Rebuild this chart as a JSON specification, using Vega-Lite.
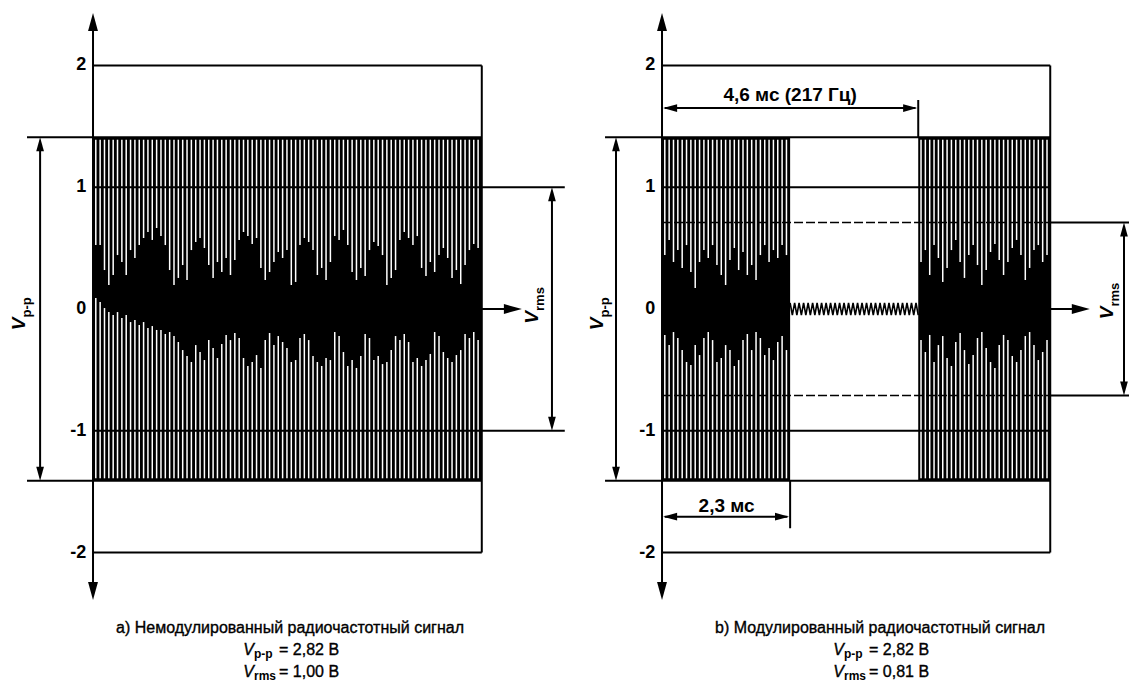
{
"$schema": "https://vega.github.io/schema/vega-lite/v6.json",
"padding": 0,
"spacing": 3,
"bounds": "flush",
"background": "white",
"config": {"view": {"stroke": null}, "font": "Liberation Sans"},
"datasets": {
"blk": [{"p":"a","t0":0,"t1":6.98,"hi":1.41,"lo":-1.41},{"p":"b","t0":0,"t1":2.3,"hi":1.41,"lo":-1.41},{"p":"b","t0":4.6,"t1":6.97,"hi":1.41,"lo":-1.41}],
"sa": [
{"t":0.05,"u":0.525,"l":0.090},{"t":0.128,"u":0.525,"l":0.057},{"t":0.206,"u":0.320,"l":0.008},{"t":0.284,"u":0.197,"l":-0.025},{"t":0.362,"u":0.279,"l":-0.049},
{"t":0.44,"u":0.443,"l":-0.025},{"t":0.518,"u":0.386,"l":-0.074},{"t":0.596,"u":0.279,"l":-0.049},{"t":0.674,"u":0.484,"l":-0.107},{"t":0.752,"u":0.419,"l":-0.090},
{"t":0.83,"u":0.525,"l":-0.131},{"t":0.908,"u":0.583,"l":-0.107},{"t":0.986,"u":0.632,"l":-0.156},{"t":1.064,"u":0.567,"l":-0.140},{"t":1.142,"u":0.665,"l":-0.172},
{"t":1.22,"u":0.599,"l":-0.172},{"t":1.298,"u":0.525,"l":-0.205},{"t":1.376,"u":0.320,"l":-0.189},{"t":1.454,"u":0.197,"l":-0.222},{"t":1.532,"u":0.255,"l":-0.271},
{"t":1.61,"u":0.361,"l":-0.337},{"t":1.688,"u":0.238,"l":-0.386},{"t":1.766,"u":0.484,"l":-0.435},{"t":1.844,"u":0.550,"l":-0.296},{"t":1.922,"u":0.583,"l":-0.353},
{"t":2.0,"u":0.501,"l":-0.419},{"t":2.078,"u":0.361,"l":-0.255},{"t":2.156,"u":0.255,"l":-0.320},{"t":2.234,"u":0.386,"l":-0.402},{"t":2.312,"u":0.304,"l":-0.287},
{"t":2.39,"u":0.419,"l":-0.213},{"t":2.468,"u":0.279,"l":-0.255},{"t":2.546,"u":0.402,"l":-0.197},{"t":2.624,"u":0.567,"l":-0.238},{"t":2.702,"u":0.632,"l":-0.402},
{"t":2.78,"u":0.599,"l":-0.468},{"t":2.858,"u":0.534,"l":-0.435},{"t":2.936,"u":0.583,"l":-0.378},{"t":3.014,"u":0.337,"l":-0.484},{"t":3.092,"u":0.238,"l":-0.255},
{"t":3.17,"u":0.304,"l":-0.197},{"t":3.248,"u":0.386,"l":-0.296},{"t":3.326,"u":0.468,"l":-0.222},{"t":3.404,"u":0.419,"l":-0.271},{"t":3.482,"u":0.484,"l":-0.320},
{"t":3.56,"u":0.197,"l":-0.435},{"t":3.638,"u":0.222,"l":-0.419},{"t":3.716,"u":0.525,"l":-0.238},{"t":3.794,"u":0.583,"l":-0.205},{"t":3.872,"u":0.550,"l":-0.255},
{"t":3.95,"u":0.484,"l":-0.386},{"t":4.028,"u":0.279,"l":-0.435},{"t":4.106,"u":0.337,"l":-0.468},{"t":4.184,"u":0.238,"l":-0.402},{"t":4.262,"u":0.386,"l":-0.419},
{"t":4.34,"u":0.599,"l":-0.189},{"t":4.418,"u":0.567,"l":-0.222},{"t":4.496,"u":0.649,"l":-0.353},{"t":4.574,"u":0.525,"l":-0.468},{"t":4.652,"u":0.304,"l":-0.419},
{"t":4.73,"u":0.238,"l":-0.484},{"t":4.808,"u":0.337,"l":-0.386},{"t":4.886,"u":0.271,"l":-0.205},{"t":4.964,"u":0.484,"l":-0.238},{"t":5.042,"u":0.550,"l":-0.419},
{"t":5.12,"u":0.517,"l":-0.386},{"t":5.198,"u":0.443,"l":-0.452},{"t":5.276,"u":0.197,"l":-0.435},{"t":5.354,"u":0.255,"l":-0.337},{"t":5.432,"u":0.320,"l":-0.222},
{"t":5.51,"u":0.567,"l":-0.255},{"t":5.588,"u":0.632,"l":-0.205},{"t":5.666,"u":0.583,"l":-0.271},{"t":5.744,"u":0.525,"l":-0.435},{"t":5.822,"u":0.599,"l":-0.402},
{"t":5.9,"u":0.337,"l":-0.468},{"t":5.978,"u":0.271,"l":-0.419},{"t":6.056,"u":0.386,"l":-0.369},{"t":6.134,"u":0.304,"l":-0.189},{"t":6.212,"u":0.443,"l":-0.222},
{"t":6.29,"u":0.501,"l":-0.353},{"t":6.368,"u":0.419,"l":-0.402},{"t":6.446,"u":0.255,"l":-0.435},{"t":6.524,"u":0.320,"l":-0.378},{"t":6.602,"u":0.205,"l":-0.337},
{"t":6.68,"u":0.361,"l":-0.205},{"t":6.758,"u":0.484,"l":-0.238},{"t":6.836,"u":0.534,"l":-0.189},{"t":6.914,"u":0.501,"l":-0.255}
],
"sb": [
{"t":0.05,"u":0.443,"l":-0.213},{"t":0.128,"u":0.567,"l":-0.296},{"t":0.206,"u":0.386,"l":-0.189},{"t":0.284,"u":0.484,"l":-0.238},{"t":0.362,"u":0.337,"l":-0.337},
{"t":0.44,"u":0.525,"l":-0.435},{"t":0.518,"u":0.304,"l":-0.460},{"t":0.596,"u":0.172,"l":-0.296},{"t":0.674,"u":0.386,"l":-0.378},{"t":0.752,"u":0.484,"l":-0.238},
{"t":0.83,"u":0.419,"l":-0.189},{"t":0.908,"u":0.525,"l":-0.255},{"t":0.986,"u":0.361,"l":-0.435},{"t":1.064,"u":0.279,"l":-0.402},{"t":1.142,"u":0.197,"l":-0.296},
{"t":1.22,"u":0.402,"l":-0.337},{"t":1.298,"u":0.501,"l":-0.468},{"t":1.376,"u":0.320,"l":-0.419},{"t":1.454,"u":0.468,"l":-0.255},{"t":1.532,"u":0.279,"l":-0.205},
{"t":1.61,"u":0.361,"l":-0.337},{"t":1.688,"u":0.238,"l":-0.189},{"t":1.766,"u":0.443,"l":-0.238},{"t":1.844,"u":0.525,"l":-0.378},{"t":1.922,"u":0.386,"l":-0.320},
{"t":2.0,"u":0.484,"l":-0.419},{"t":2.078,"u":0.419,"l":-0.271},{"t":2.156,"u":0.525,"l":-0.222},{"t":2.234,"u":0.443,"l":-0.337},
{"t":4.65,"u":0.386,"l":-0.255},{"t":4.728,"u":0.484,"l":-0.353},{"t":4.806,"u":0.279,"l":-0.213},{"t":4.884,"u":0.525,"l":-0.435},{"t":4.962,"u":0.419,"l":-0.296},
{"t":5.04,"u":0.222,"l":-0.222},{"t":5.118,"u":0.337,"l":-0.402},{"t":5.196,"u":0.484,"l":-0.468},{"t":5.274,"u":0.567,"l":-0.271},{"t":5.352,"u":0.386,"l":-0.197},
{"t":5.43,"u":0.255,"l":-0.337},{"t":5.508,"u":0.443,"l":-0.452},{"t":5.586,"u":0.525,"l":-0.378},{"t":5.664,"u":0.361,"l":-0.238},{"t":5.742,"u":0.197,"l":-0.189},
{"t":5.82,"u":0.320,"l":-0.320},{"t":5.898,"u":0.468,"l":-0.435},{"t":5.976,"u":0.534,"l":-0.484},{"t":6.054,"u":0.402,"l":-0.296},{"t":6.132,"u":0.279,"l":-0.213},
{"t":6.21,"u":0.386,"l":-0.255},{"t":6.288,"u":0.501,"l":-0.386},{"t":6.366,"u":0.567,"l":-0.435},{"t":6.444,"u":0.443,"l":-0.337},{"t":6.522,"u":0.238,"l":-0.222},
{"t":6.6,"u":0.337,"l":-0.189},{"t":6.678,"u":0.484,"l":-0.296},{"t":6.756,"u":0.525,"l":-0.419},{"t":6.834,"u":0.386,"l":-0.353},{"t":6.912,"u":0.443,"l":-0.255}
],
"zig": [
{"t":2.300,"v":0.05},{"t":2.340,"v":-0.05},{"t":2.381,"v":0.05},{"t":2.421,"v":-0.05},{"t":2.461,"v":0.05},{"t":2.502,"v":-0.05},{"t":2.542,"v":0.05},{"t":2.582,"v":-0.05},
{"t":2.623,"v":0.05},{"t":2.663,"v":-0.05},{"t":2.704,"v":0.05},{"t":2.744,"v":-0.05},{"t":2.784,"v":0.05},{"t":2.825,"v":-0.05},{"t":2.865,"v":0.05},{"t":2.905,"v":-0.05},
{"t":2.946,"v":0.05},{"t":2.986,"v":-0.05},{"t":3.026,"v":0.05},{"t":3.067,"v":-0.05},{"t":3.107,"v":0.05},{"t":3.147,"v":-0.05},{"t":3.188,"v":0.05},{"t":3.228,"v":-0.05},
{"t":3.268,"v":0.05},{"t":3.309,"v":-0.05},{"t":3.349,"v":0.05},{"t":3.389,"v":-0.05},{"t":3.430,"v":0.05},{"t":3.470,"v":-0.05},{"t":3.511,"v":0.05},{"t":3.551,"v":-0.05},
{"t":3.591,"v":0.05},{"t":3.632,"v":-0.05},{"t":3.672,"v":0.05},{"t":3.712,"v":-0.05},{"t":3.753,"v":0.05},{"t":3.793,"v":-0.05},{"t":3.833,"v":0.05},{"t":3.874,"v":-0.05},
{"t":3.914,"v":0.05},{"t":3.954,"v":-0.05},{"t":3.995,"v":0.05},{"t":4.035,"v":-0.05},{"t":4.075,"v":0.05},{"t":4.116,"v":-0.05},{"t":4.156,"v":0.05},{"t":4.196,"v":-0.05},
{"t":4.237,"v":0.05},{"t":4.277,"v":-0.05},{"t":4.318,"v":0.05},{"t":4.358,"v":-0.05},{"t":4.398,"v":0.05},{"t":4.439,"v":-0.05},{"t":4.479,"v":0.05},{"t":4.519,"v":-0.05},
{"t":4.560,"v":0.05},{"t":4.600,"v":-0.05}
],
"la": [
{"x1":0,"x2":6.98,"y1":2,"y2":2},{"x1":-1.185,"x2":6.98,"y1":1.41,"y2":1.41},{"x1":0,"x2":8.47,"y1":1,"y2":1},{"x1":0,"x2":8.47,"y1":-1,"y2":-1},
{"x1":-1.185,"x2":6.98,"y1":-1.41,"y2":-1.41},{"x1":0,"x2":6.98,"y1":-2,"y2":-2},{"x1":6.98,"x2":6.98,"y1":-2,"y2":2},
{"x1":0,"x2":0,"y1":-2.3,"y2":2.35},{"x1":-0.95,"x2":-0.95,"y1":-1.35,"y2":1.35},{"x1":8.24,"x2":8.24,"y1":-0.95,"y2":0.95},
{"x1":6.98,"x2":7.6,"y1":0,"y2":0}
],
"lb": [
{"x1":0,"x2":6.97,"y1":2,"y2":2},{"x1":-1.023,"x2":6.97,"y1":1.41,"y2":1.41},{"x1":0,"x2":6.97,"y1":1,"y2":1},{"x1":0,"x2":6.97,"y1":-1,"y2":-1},
{"x1":-1.023,"x2":6.97,"y1":-1.41,"y2":-1.41},{"x1":0,"x2":6.97,"y1":-2,"y2":-2},{"x1":6.97,"x2":6.97,"y1":-2,"y2":2},
{"x1":0,"x2":0,"y1":-2.3,"y2":2.35},{"x1":-0.826,"x2":-0.826,"y1":-1.35,"y2":1.35},{"x1":8.294,"x2":8.294,"y1":-0.66,"y2":0.66},
{"x1":6.97,"x2":8.384,"y1":0.71,"y2":0.71},{"x1":6.97,"x2":8.384,"y1":-0.71,"y2":-0.71},{"x1":6.97,"x2":7.58,"y1":0,"y2":0},
{"x1":0.05,"x2":4.55,"y1":1.65,"y2":1.65},{"x1":4.6,"x2":4.6,"y1":1.41,"y2":1.716},
{"x1":0.05,"x2":2.25,"y1":-1.705,"y2":-1.705},{"x1":2.3,"x2":2.3,"y1":-1.41,"y2":-1.80}
],
"db": [{"x1":0,"x2":6.97,"y1":0.71,"y2":0.71},{"x1":0,"x2":6.97,"y1":-0.71,"y2":-0.71}],
"arr": [
{"p":"a","t":0,"v":2.43,"d":"up","role":"axis"},{"p":"a","t":0,"v":-2.39,"d":"down","role":"axis"},{"p":"a","t":7.7,"v":0,"d":"right","role":"axis"},
{"p":"a","t":-0.95,"v":1.41,"d":"up","role":"dim"},{"p":"a","t":-0.95,"v":-1.41,"d":"down","role":"dim"},
{"p":"a","t":8.24,"v":1,"d":"up","role":"dim"},{"p":"a","t":8.24,"v":-1,"d":"down","role":"dim"},
{"p":"b","t":0,"v":2.43,"d":"up","role":"axis"},{"p":"b","t":0,"v":-2.39,"d":"down","role":"axis"},{"p":"b","t":7.68,"v":0,"d":"right","role":"axis"},
{"p":"b","t":-0.826,"v":1.41,"d":"up","role":"dim"},{"p":"b","t":-0.826,"v":-1.41,"d":"down","role":"dim"},
{"p":"b","t":8.294,"v":0.71,"d":"up","role":"dim"},{"p":"b","t":8.294,"v":-0.71,"d":"down","role":"dim"},
{"p":"b","t":0.02,"v":1.65,"d":"left","role":"dim"},{"p":"b","t":4.58,"v":1.65,"d":"right","role":"dim"},
{"p":"b","t":0.02,"v":-1.705,"d":"left","role":"dim"},{"p":"b","t":2.28,"v":-1.705,"d":"right","role":"dim"}
],
"tk": [{"t":-0.12,"v":2,"s":"2"},{"t":-0.12,"v":1,"s":"1"},{"t":-0.12,"v":0,"s":"0"},{"t":-0.12,"v":-1,"s":"-1"},{"t":-0.12,"v":-2,"s":"-2"}],
"cap": [{"p":"a","t":3.537,"v":-2.62,"s":"a) Немодулированный радиочастотный сигнал"},{"p":"b","t":3.914,"v":-2.62,"s":"b) Модулированный радиочастотный сигнал"}],
"dl": [{"t":2.3,"v":1.757,"s":"4,6 мс (217 Гц)"},{"t":1.16,"v":-1.617,"s":"2,3 мс"}],
"fm": [{"p":"a","t":3.537,"v":-2.80,"sub":"p-p","rest":"= 2,82 В"},{"p":"a","t":3.537,"v":-2.98,"sub":"rms","rest":"= 1,00 В"},
{"p":"b","t":3.914,"v":-2.80,"sub":"p-p","rest":"= 2,82 В"},{"p":"b","t":3.914,"v":-2.98,"sub":"rms","rest":"= 0,81 В"}],
"rl": [{"p":"a","t":-1.221,"v":-0.07,"sub":"p-p"},{"p":"a","t":7.99,"v":-0.016,"sub":"rms"},{"p":"b","t":-1.059,"v":-0.07,"sub":"p-p"},{"p":"b","t":8.10,"v":0.02,"sub":"rms"}]
},
"hconcat": [
{
"width": 567, "height": 690,
"layer": [
{"data":{"name":"blk"},"transform":[{"filter":"datum.p=='a'"}],"mark":{"type":"rect","color":"#000"},
 "encoding":{"x":{"field":"t0","type":"quantitative","scale":{"domain":[-1.67,8.51],"nice":false,"zero":false},"axis":null},"x2":{"field":"t1"},
 "y":{"field":"hi","type":"quantitative","scale":{"domain":[-3.128,2.537],"nice":false,"zero":false},"axis":null},"y2":{"field":"lo"}}},
{"data":{"name":"sa"},"mark":{"type":"rule","color":"#fff","strokeWidth":1.5},
 "encoding":{"x":{"field":"t","type":"quantitative","scale":{"domain":[-1.67,8.51],"nice":false,"zero":false},"axis":null},
 "y":{"field":"u","type":"quantitative","scale":{"domain":[-3.128,2.537],"nice":false,"zero":false},"axis":null},"y2":{"datum":1.39}}},
{"data":{"name":"sa"},"mark":{"type":"rule","color":"#fff","strokeWidth":1.5},
 "encoding":{"x":{"field":"t","type":"quantitative","scale":{"domain":[-1.67,8.51],"nice":false,"zero":false},"axis":null},
 "y":{"field":"l","type":"quantitative","scale":{"domain":[-3.128,2.537],"nice":false,"zero":false},"axis":null},"y2":{"datum":-1.39}}},
{"data":{"name":"la"},"mark":{"type":"rule","color":"#000","strokeWidth":2},
 "encoding":{"x":{"field":"x1","type":"quantitative","scale":{"domain":[-1.67,8.51],"nice":false,"zero":false},"axis":null},"x2":{"field":"x2"},
 "y":{"field":"y1","type":"quantitative","scale":{"domain":[-3.128,2.537],"nice":false,"zero":false},"axis":null},"y2":{"field":"y2"}}},
{"data":{"name":"arr"},"transform":[{"filter":"datum.p=='a' && datum.role=='axis'"}],"mark":{"type":"point","filled":true,"color":"#000","opacity":1,"size":324,"strokeWidth":0},
 "encoding":{"x":{"field":"t","type":"quantitative","scale":{"domain":[-1.67,8.51],"nice":false,"zero":false},"axis":null},
 "y":{"field":"v","type":"quantitative","scale":{"domain":[-3.128,2.537],"nice":false,"zero":false},"axis":null},
 "shape":{"field":"d","type":"nominal","scale":{"domain":["up","down","left","right"],"range":["M0,0L0.55,2L-0.55,2Z","M0,0L0.55,-2L-0.55,-2Z","M0,0L2,0.55L2,-0.55Z","M0,0L-2,0.55L-2,-0.55Z"]},"legend":null}}},
{"data":{"name":"arr"},"transform":[{"filter":"datum.p=='a' && datum.role=='dim'"}],"mark":{"type":"point","filled":true,"color":"#000","opacity":1,"size":196,"strokeWidth":0},
 "encoding":{"x":{"field":"t","type":"quantitative","scale":{"domain":[-1.67,8.51],"nice":false,"zero":false},"axis":null},
 "y":{"field":"v","type":"quantitative","scale":{"domain":[-3.128,2.537],"nice":false,"zero":false},"axis":null},
 "shape":{"field":"d","type":"nominal","scale":{"domain":["up","down","left","right"],"range":["M0,0L0.55,2L-0.55,2Z","M0,0L0.55,-2L-0.55,-2Z","M0,0L2,0.55L2,-0.55Z","M0,0L-2,0.55L-2,-0.55Z"]},"legend":null}}},
{"data":{"name":"tk"},"mark":{"type":"text","font":"Liberation Sans","fontSize":18,"fontWeight":"bold","align":"right","baseline":"middle","color":"#000"},
 "encoding":{"x":{"field":"t","type":"quantitative","scale":{"domain":[-1.67,8.51],"nice":false,"zero":false},"axis":null},
 "y":{"field":"v","type":"quantitative","scale":{"domain":[-3.128,2.537],"nice":false,"zero":false},"axis":null},"text":{"field":"s"}}},
{"data":{"name":"cap"},"transform":[{"filter":"datum.p=='a'"}],"mark":{"type":"text","font":"Liberation Sans","fontSize":16,"align":"center","baseline":"middle","color":"#000","stroke":"#000","strokeWidth":0.35},
 "encoding":{"x":{"field":"t","type":"quantitative","scale":{"domain":[-1.67,8.51],"nice":false,"zero":false},"axis":null},
 "y":{"field":"v","type":"quantitative","scale":{"domain":[-3.128,2.537],"nice":false,"zero":false},"axis":null},"text":{"field":"s"}}},
{"data":{"name":"fm"},"transform":[{"filter":"datum.p=='a'"}],"mark":{"type":"text","font":"Liberation Sans","fontSize":16,"fontStyle":"italic","align":"right","baseline":"middle","dx":-36,"color":"#000","stroke":"#000","strokeWidth":0.35},
 "encoding":{"x":{"field":"t","type":"quantitative","scale":{"domain":[-1.67,8.51],"nice":false,"zero":false},"axis":null},
 "y":{"field":"v","type":"quantitative","scale":{"domain":[-3.128,2.537],"nice":false,"zero":false},"axis":null},"text":{"value":"V"}}},
{"data":{"name":"fm"},"transform":[{"filter":"datum.p=='a'"}],"mark":{"type":"text","font":"Liberation Sans","fontSize":12,"fontWeight":"bold","align":"left","baseline":"middle","dx":-36,"dy":4,"color":"#000"},
 "encoding":{"x":{"field":"t","type":"quantitative","scale":{"domain":[-1.67,8.51],"nice":false,"zero":false},"axis":null},
 "y":{"field":"v","type":"quantitative","scale":{"domain":[-3.128,2.537],"nice":false,"zero":false},"axis":null},"text":{"field":"sub"}}},
{"data":{"name":"fm"},"transform":[{"filter":"datum.p=='a'"}],"mark":{"type":"text","font":"Liberation Sans","fontSize":16,"align":"left","baseline":"middle","dx":-11,"color":"#000","stroke":"#000","strokeWidth":0.35},
 "encoding":{"x":{"field":"t","type":"quantitative","scale":{"domain":[-1.67,8.51],"nice":false,"zero":false},"axis":null},
 "y":{"field":"v","type":"quantitative","scale":{"domain":[-3.128,2.537],"nice":false,"zero":false},"axis":null},"text":{"field":"rest"}}},
{"data":{"name":"rl"},"transform":[{"filter":"datum.p=='a'"}],"mark":{"type":"text","font":"Liberation Sans","fontSize":19,"fontStyle":"italic","fontWeight":"bold","angle":270,"align":"right","baseline":"alphabetic","color":"#000"},
 "encoding":{"x":{"field":"t","type":"quantitative","scale":{"domain":[-1.67,8.51],"nice":false,"zero":false},"axis":null},
 "y":{"field":"v","type":"quantitative","scale":{"domain":[-3.128,2.537],"nice":false,"zero":false},"axis":null},"text":{"value":"V"}}},
{"data":{"name":"rl"},"transform":[{"filter":"datum.p=='a'"}],"mark":{"type":"text","font":"Liberation Sans","fontSize":13,"fontWeight":"bold","angle":270,"align":"left","baseline":"alphabetic","dy":6,"color":"#000"},
 "encoding":{"x":{"field":"t","type":"quantitative","scale":{"domain":[-1.67,8.51],"nice":false,"zero":false},"axis":null},
 "y":{"field":"v","type":"quantitative","scale":{"domain":[-3.128,2.537],"nice":false,"zero":false},"axis":null},"text":{"field":"sub"}}}
]
},
{
"width": 559, "height": 690,
"layer": [
{"data":{"name":"blk"},"transform":[{"filter":"datum.p=='b'"}],"mark":{"type":"rect","color":"#000"},
 "encoding":{"x":{"field":"t0","type":"quantitative","scale":{"domain":[-1.652,8.384],"nice":false,"zero":false},"axis":null},"x2":{"field":"t1"},
 "y":{"field":"hi","type":"quantitative","scale":{"domain":[-3.128,2.537],"nice":false,"zero":false},"axis":null},"y2":{"field":"lo"}}},
{"data":{"name":"sb"},"mark":{"type":"rule","color":"#fff","strokeWidth":1.5},
 "encoding":{"x":{"field":"t","type":"quantitative","scale":{"domain":[-1.652,8.384],"nice":false,"zero":false},"axis":null},
 "y":{"field":"u","type":"quantitative","scale":{"domain":[-3.128,2.537],"nice":false,"zero":false},"axis":null},"y2":{"datum":1.39}}},
{"data":{"name":"sb"},"mark":{"type":"rule","color":"#fff","strokeWidth":1.5},
 "encoding":{"x":{"field":"t","type":"quantitative","scale":{"domain":[-1.652,8.384],"nice":false,"zero":false},"axis":null},
 "y":{"field":"l","type":"quantitative","scale":{"domain":[-3.128,2.537],"nice":false,"zero":false},"axis":null},"y2":{"datum":-1.39}}},
{"data":{"name":"zig"},"mark":{"type":"line","color":"#000","strokeWidth":1.6},
 "encoding":{"x":{"field":"t","type":"quantitative","scale":{"domain":[-1.652,8.384],"nice":false,"zero":false},"axis":null},
 "y":{"field":"v","type":"quantitative","scale":{"domain":[-3.128,2.537],"nice":false,"zero":false},"axis":null}}},
{"data":{"name":"lb"},"mark":{"type":"rule","color":"#000","strokeWidth":2},
 "encoding":{"x":{"field":"x1","type":"quantitative","scale":{"domain":[-1.652,8.384],"nice":false,"zero":false},"axis":null},"x2":{"field":"x2"},
 "y":{"field":"y1","type":"quantitative","scale":{"domain":[-3.128,2.537],"nice":false,"zero":false},"axis":null},"y2":{"field":"y2"}}},
{"data":{"name":"db"},"mark":{"type":"rule","color":"#000","strokeWidth":1.6,"strokeDash":[9,3]},
 "encoding":{"x":{"field":"x1","type":"quantitative","scale":{"domain":[-1.652,8.384],"nice":false,"zero":false},"axis":null},"x2":{"field":"x2"},
 "y":{"field":"y1","type":"quantitative","scale":{"domain":[-3.128,2.537],"nice":false,"zero":false},"axis":null},"y2":{"field":"y2"}}},
{"data":{"name":"arr"},"transform":[{"filter":"datum.p=='b' && datum.role=='axis'"}],"mark":{"type":"point","filled":true,"color":"#000","opacity":1,"size":324,"strokeWidth":0},
 "encoding":{"x":{"field":"t","type":"quantitative","scale":{"domain":[-1.652,8.384],"nice":false,"zero":false},"axis":null},
 "y":{"field":"v","type":"quantitative","scale":{"domain":[-3.128,2.537],"nice":false,"zero":false},"axis":null},
 "shape":{"field":"d","type":"nominal","scale":{"domain":["up","down","left","right"],"range":["M0,0L0.55,2L-0.55,2Z","M0,0L0.55,-2L-0.55,-2Z","M0,0L2,0.55L2,-0.55Z","M0,0L-2,0.55L-2,-0.55Z"]},"legend":null}}},
{"data":{"name":"arr"},"transform":[{"filter":"datum.p=='b' && datum.role=='dim'"}],"mark":{"type":"point","filled":true,"color":"#000","opacity":1,"size":196,"strokeWidth":0},
 "encoding":{"x":{"field":"t","type":"quantitative","scale":{"domain":[-1.652,8.384],"nice":false,"zero":false},"axis":null},
 "y":{"field":"v","type":"quantitative","scale":{"domain":[-3.128,2.537],"nice":false,"zero":false},"axis":null},
 "shape":{"field":"d","type":"nominal","scale":{"domain":["up","down","left","right"],"range":["M0,0L0.55,2L-0.55,2Z","M0,0L0.55,-2L-0.55,-2Z","M0,0L2,0.55L2,-0.55Z","M0,0L-2,0.55L-2,-0.55Z"]},"legend":null}}},
{"data":{"name":"tk"},"mark":{"type":"text","font":"Liberation Sans","fontSize":18,"fontWeight":"bold","align":"right","baseline":"middle","color":"#000"},
 "encoding":{"x":{"field":"t","type":"quantitative","scale":{"domain":[-1.652,8.384],"nice":false,"zero":false},"axis":null},
 "y":{"field":"v","type":"quantitative","scale":{"domain":[-3.128,2.537],"nice":false,"zero":false},"axis":null},"text":{"field":"s"}}},
{"data":{"name":"dl"},"mark":{"type":"text","font":"Liberation Sans","fontSize":19,"fontWeight":"bold","align":"center","baseline":"middle","color":"#000"},
 "encoding":{"x":{"field":"t","type":"quantitative","scale":{"domain":[-1.652,8.384],"nice":false,"zero":false},"axis":null},
 "y":{"field":"v","type":"quantitative","scale":{"domain":[-3.128,2.537],"nice":false,"zero":false},"axis":null},"text":{"field":"s"}}},
{"data":{"name":"cap"},"transform":[{"filter":"datum.p=='b'"}],"mark":{"type":"text","font":"Liberation Sans","fontSize":16,"align":"center","baseline":"middle","color":"#000","stroke":"#000","strokeWidth":0.35},
 "encoding":{"x":{"field":"t","type":"quantitative","scale":{"domain":[-1.652,8.384],"nice":false,"zero":false},"axis":null},
 "y":{"field":"v","type":"quantitative","scale":{"domain":[-3.128,2.537],"nice":false,"zero":false},"axis":null},"text":{"field":"s"}}},
{"data":{"name":"fm"},"transform":[{"filter":"datum.p=='b'"}],"mark":{"type":"text","font":"Liberation Sans","fontSize":16,"fontStyle":"italic","align":"right","baseline":"middle","dx":-36,"color":"#000","stroke":"#000","strokeWidth":0.35},
 "encoding":{"x":{"field":"t","type":"quantitative","scale":{"domain":[-1.652,8.384],"nice":false,"zero":false},"axis":null},
 "y":{"field":"v","type":"quantitative","scale":{"domain":[-3.128,2.537],"nice":false,"zero":false},"axis":null},"text":{"value":"V"}}},
{"data":{"name":"fm"},"transform":[{"filter":"datum.p=='b'"}],"mark":{"type":"text","font":"Liberation Sans","fontSize":12,"fontWeight":"bold","align":"left","baseline":"middle","dx":-36,"dy":4,"color":"#000"},
 "encoding":{"x":{"field":"t","type":"quantitative","scale":{"domain":[-1.652,8.384],"nice":false,"zero":false},"axis":null},
 "y":{"field":"v","type":"quantitative","scale":{"domain":[-3.128,2.537],"nice":false,"zero":false},"axis":null},"text":{"field":"sub"}}},
{"data":{"name":"fm"},"transform":[{"filter":"datum.p=='b'"}],"mark":{"type":"text","font":"Liberation Sans","fontSize":16,"align":"left","baseline":"middle","dx":-11,"color":"#000","stroke":"#000","strokeWidth":0.35},
 "encoding":{"x":{"field":"t","type":"quantitative","scale":{"domain":[-1.652,8.384],"nice":false,"zero":false},"axis":null},
 "y":{"field":"v","type":"quantitative","scale":{"domain":[-3.128,2.537],"nice":false,"zero":false},"axis":null},"text":{"field":"rest"}}},
{"data":{"name":"rl"},"transform":[{"filter":"datum.p=='b'"}],"mark":{"type":"text","font":"Liberation Sans","fontSize":19,"fontStyle":"italic","fontWeight":"bold","angle":270,"align":"right","baseline":"alphabetic","color":"#000"},
 "encoding":{"x":{"field":"t","type":"quantitative","scale":{"domain":[-1.652,8.384],"nice":false,"zero":false},"axis":null},
 "y":{"field":"v","type":"quantitative","scale":{"domain":[-3.128,2.537],"nice":false,"zero":false},"axis":null},"text":{"value":"V"}}},
{"data":{"name":"rl"},"transform":[{"filter":"datum.p=='b'"}],"mark":{"type":"text","font":"Liberation Sans","fontSize":13,"fontWeight":"bold","angle":270,"align":"left","baseline":"alphabetic","dy":6,"color":"#000"},
 "encoding":{"x":{"field":"t","type":"quantitative","scale":{"domain":[-1.652,8.384],"nice":false,"zero":false},"axis":null},
 "y":{"field":"v","type":"quantitative","scale":{"domain":[-3.128,2.537],"nice":false,"zero":false},"axis":null},"text":{"field":"sub"}}}
]
}
]
}
